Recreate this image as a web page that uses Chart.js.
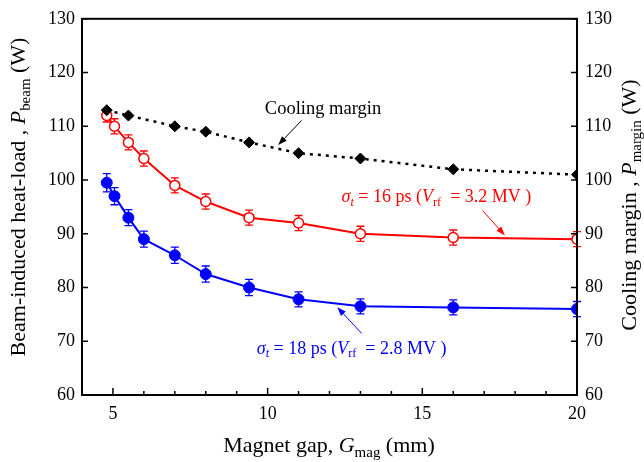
<!DOCTYPE html>
<html>
<head>
<meta charset="utf-8">
<script src="https://cdn.jsdelivr.net/npm/chart.js@4/dist/chart.umd.min.js"></script>
<style>
  html, body { margin: 0; padding: 0; background: #fff; }
  #wrap { width: 644px; height: 462px; }
</style>
</head>
<body>
<div id="wrap"><canvas id="myChart" width="644" height="462"></canvas></div>
<script>
// values
const gap = [4.8, 5.05, 5.5, 6, 7, 8, 9.4, 11, 13, 16, 20];
const heat16 = [112, 110, 107, 104, 99, 96, 93, 92, 90, 89.3, 89];
const err16 = [1.2, 1.4, 1.4, 1.4, 1.4, 1.4, 1.4, 1.4, 1.4, 1.4, 1.4];
const heat18 = [99.5, 97, 93, 89, 86, 82.5, 80, 77.8, 76.5, 76.3, 76];
const err18 = [1.7, 1.6, 1.5, 1.5, 1.5, 1.5, 1.5, 1.4, 1.4, 1.4, 1.4];
const marginGap = [4.8, 5.5, 7, 8, 9.4, 11, 13, 16, 20];
const marginPower = [113, 112, 110, 109, 107, 105, 104, 102, 101];

const xTicks = [5, 10, 15, 20];
const yTicks = [60, 70, 80, 90, 100, 110, 120, 130];

const RED = '#ff0000';
const BLUE = '#0000ff';
const FONT = '"Liberation Serif", "Times New Roman", serif';

function pts(xs, ys) {
	return xs.map((x, i) => ({x: x, y: ys[i]}));
}

// rich text: parts = [{t, i (italic), s (subscript)}]
function drawRich(ctx, parts, x, y, size, color, align) {
	ctx.save();
	ctx.fillStyle = color;
	ctx.textBaseline = 'middle';
	ctx.textAlign = 'left';
	let total = 0;
	const widths = parts.map(p => {
		ctx.font = (p.i ? 'italic ' : '') + (p.s ? size * 0.68 : size) + 'px ' + FONT;
		const w = ctx.measureText(p.t).width;
		total += w;
		return w;
	});
	let cx = x;
	if (align == 'center') cx = x - total / 2;
	parts.forEach((p, k) => {
		ctx.font = (p.i ? 'italic ' : '') + (p.s ? size * 0.68 : size) + 'px ' + FONT;
		ctx.fillText(p.t, cx, p.s ? y + size * 0.3 : y);
		cx += widths[k];
	});
	ctx.restore();
}

function arrow(ctx, x1, y1, x2, y2, color) {
	ctx.save();
	ctx.strokeStyle = color;
	ctx.fillStyle = color;
	ctx.lineWidth = 1;
	const a = Math.atan2(y2 - y1, x2 - x1);
	const len = 9, half = 3.2;
	ctx.beginPath();
	ctx.moveTo(x1, y1);
	ctx.lineTo(x2 - Math.cos(a) * len * 0.8, y2 - Math.sin(a) * len * 0.8);
	ctx.stroke();
	ctx.beginPath();
	ctx.moveTo(x2, y2);
	ctx.lineTo(x2 - Math.cos(a) * len - Math.sin(a) * half, y2 - Math.sin(a) * len + Math.cos(a) * half);
	ctx.lineTo(x2 - Math.cos(a) * len + Math.sin(a) * half, y2 - Math.sin(a) * len - Math.cos(a) * half);
	ctx.closePath();
	ctx.fill();
	ctx.restore();
}

const errorBars = {
	id: 'errorBars',
	beforeDatasetsDraw(chart) {
		const ctx = chart.ctx;
		const xs = chart.scales.x, ys = chart.scales.y;
		chart.data.datasets.forEach(ds => {
			if (!ds.errors) return;
			ctx.save();
			ctx.strokeStyle = ds.borderColor;
			ctx.lineWidth = 1.3;
			ds.data.forEach((p, i) => {
				const px = xs.getPixelForValue(p.x);
				const top = ys.getPixelForValue(p.y + ds.errors[i]);
				const bot = ys.getPixelForValue(p.y - ds.errors[i]);
				ctx.beginPath();
				ctx.moveTo(px, top); ctx.lineTo(px, bot);
				ctx.moveTo(px - 4, top); ctx.lineTo(px + 4, top);
				ctx.moveTo(px - 4, bot); ctx.lineTo(px + 4, bot);
				ctx.stroke();
			});
			ctx.restore();
		});
	}
};

const decor = {
	id: 'decor',
	afterDraw(chart) {
		const ctx = chart.ctx;
		const a = chart.chartArea;
		const xs = chart.scales.x, ys = chart.scales.y;
		ctx.save();
		ctx.strokeStyle = '#000';
		ctx.lineWidth = 2;
		ctx.strokeRect(a.left, a.top, a.right - a.left, a.bottom - a.top);
		ctx.lineWidth = 1.5;
		ctx.beginPath();
		for (let v = 4; v <= 20; v++) {
			const px = xs.getPixelForValue(v);
			const l = v % 5 == 0 ? 7 : 4;
			ctx.moveTo(px, a.bottom); ctx.lineTo(px, a.bottom - l);
		}
		yTicks.forEach(v => {
			const py = ys.getPixelForValue(v);
			ctx.moveTo(a.left, py); ctx.lineTo(a.left + 6, py);
			ctx.moveTo(a.right, py); ctx.lineTo(a.right - 6, py);
		});
		ctx.stroke();
		ctx.restore();

		// axis titles
		drawRich(ctx, [{t: 'Magnet gap, '}, {t: 'G', i: true}, {t: 'mag', s: true}, {t: ' (mm)'}],
			329, 446, 22, '#000', 'center');
		ctx.save();
		ctx.translate(19, 197);
		ctx.rotate(-Math.PI / 2);
		drawRich(ctx, [{t: 'Beam-induced heat-load , '}, {t: 'P', i: true}, {t: 'beam', s: true}, {t: ' (W)'}],
			0, 0, 22, '#000', 'center');
		ctx.restore();
		ctx.save();
		ctx.translate(630, 205);
		ctx.rotate(-Math.PI / 2);
		drawRich(ctx, [{t: 'Cooling margin , '}, {t: 'P', i: true}, {t: 'margin', s: true}, {t: ' (W)'}],
			0, 0, 22, '#000', 'center');
		ctx.restore();

		// annotations, positioned in data units
		const X = v => xs.getPixelForValue(v), Y = v => ys.getPixelForValue(v);
		drawRich(ctx, [{t: 'Cooling margin'}], X(9.91), Y(113.1), 18.5, '#000', 'left');
		arrow(ctx, X(11.1), Y(111.1), X(10.34), Y(106.5), '#000');
		drawRich(ctx, [{t: 'σ', i: true}, {t: 't', i: true, s: true}, {t: ' = 16 ps ('}, {t: 'V', i: true}, {t: 'rf', s: true}, {t: '  = 3.2 MV )'}],
			X(12.39), Y(96.75), 18, RED, 'left');
		arrow(ctx, X(16.95), Y(94.3), X(17.67), Y(89.7), RED);
		drawRich(ctx, [{t: 'σ', i: true}, {t: 't', i: true, s: true}, {t: ' = 18 ps ('}, {t: 'V', i: true}, {t: 'rf', s: true}, {t: '  = 2.8 MV )'}],
			X(9.65), Y(68.6), 18, BLUE, 'left');
		arrow(ctx, X(13.04), Y(71.45), X(12.25), Y(76.35), BLUE);
	}
};

const tickFont = {family: FONT, size: 18};

const ctx = document.getElementById('myChart').getContext('2d');
const myChart = new Chart(ctx, {
	type: 'scatter',
	data: {
		datasets: [{
			label: 'Cooling margin',
			data: pts(marginGap, marginPower),
			showLine: true,
			borderColor: '#000',
			borderWidth: 2.5,
			borderDash: [3, 5],
			pointStyle: 'rectRot',
			pointRadius: 5.5,
			pointBackgroundColor: '#000',
			pointBorderColor: '#000',
			pointBorderWidth: 1,
			yAxisID: 'y2'
		}, {
			label: '16 ps',
			data: pts(gap, heat16),
			errors: err16,
			showLine: true,
			borderColor: RED,
			borderWidth: 2,
			pointRadius: 5,
			pointBackgroundColor: '#fff',
			pointBorderColor: RED,
			pointBorderWidth: 1.5
		}, {
			label: '18 ps',
			data: pts(gap, heat18),
			errors: err18,
			showLine: true,
			borderColor: BLUE,
			borderWidth: 2,
			pointRadius: 5.5,
			pointBackgroundColor: BLUE,
			pointBorderColor: BLUE,
			pointBorderWidth: 1
		}]
	},
	options: {
		responsive: false,
		animation: false,
		layout: {padding: {top: 14, left: 0, right: 0, bottom: 0}},
		plugins: {
			legend: {display: false},
			tooltip: {enabled: false}
		},
		scales: {
			x: {
				type: 'linear',
				min: 4, max: 20,
				afterBuildTicks: s => { s.ticks = xTicks.map(v => ({value: v})); },
				afterFit: s => { s.height = 67; },
				grid: {display: false, drawTicks: false},
				border: {display: false},
				ticks: {font: tickFont, color: '#000', padding: 8, maxRotation: 0}
			},
			y: {
				min: 60, max: 130,
				afterBuildTicks: s => { s.ticks = yTicks.map(v => ({value: v})); },
				afterFit: s => { s.width = 82; },
				grid: {display: false, drawTicks: false},
				border: {display: false},
				ticks: {font: tickFont, color: '#000', padding: 7}
			},
			y2: {
				position: 'right',
				min: 60, max: 130,
				afterBuildTicks: s => { s.ticks = yTicks.map(v => ({value: v})); },
				afterFit: s => { s.width = 67; },
				grid: {display: false, drawTicks: false},
				border: {display: false},
				ticks: {font: tickFont, color: '#000', padding: 8}
			}
		}
	},
	plugins: [errorBars, decor]
});
</script>
</body>
</html>
